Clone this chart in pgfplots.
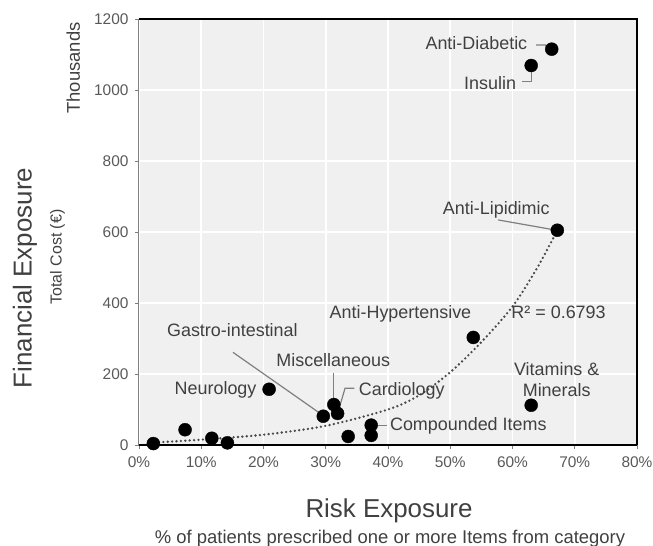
\documentclass[border=0pt]{standalone}
\usepackage{fontspec}
\setmainfont{Liberation Sans}
\usepackage{pgfplots}
\pgfplotsset{compat=1.18}

\definecolor{txt}{HTML}{404040}
\definecolor{ticktxt}{HTML}{595959}
\definecolor{bg}{HTML}{F0F0F0}
\definecolor{lead}{HTML}{7F7F7F}
\definecolor{trend}{HTML}{4A4A4A}

\tikzset{lbl/.style={anchor=base, text=txt, font=\fontsize{18}{21}\selectfont, inner sep=0pt}}

\begin{document}
\begin{tikzpicture}
\useasboundingbox (-139bp,-101bp) rectangle (514bp,445bp);
\begin{axis}[
    scale only axis,
    width=498bp,
    height=426bp,
    xmin=0, xmax=80,
    ymin=0, ymax=1200,
    xtick={0,10,...,80},
    ytick={0,200,...,1200},
    xticklabel={\pgfmathprintnumber{\tick}\%},
    grid=major,
    grid style={white, line width=1.8bp},
    axis background/.style={fill=bg},
    axis line style={draw=none},
    tick align=outside,
    xtick pos=left, ytick pos=left,
    major tick length=4bp,
    tick style={lead, line width=0.8bp},
    ticklabel style={font=\fontsize{15.5}{18}\selectfont, text=ticktxt},
    xticklabel style={yshift=-4bp},
    yticklabel style={xshift=-3bp},
    /pgf/number format/assume math mode=true,
    /pgf/number format/1000 sep={},
    clip=false,
]
% exponential trend line
\addplot[smooth, trend, line width=2.6bp, line cap=round, dash pattern=on 0bp off 4.4bp]
coordinates {
    (2.5,7) (10,15) (20,29) (30,54) (40,100) (45,140)
    (50,205) (55,290) (60,390) (64,500) (67.2,605)
};

% categories
\addplot[only marks, mark=*, mark size=6.5bp, black] coordinates {
    (66.3,1115)  % Anti-Diabetic
    (63.0,1069)  % Insulin
    (67.2,605)   % Anti-Lipidimic
    (53.7,303)   % Anti-Hypertensive
    (63.0,112)   % Vitamins & Minerals
    (20.9,157)   % Neurology
    (31.3,114)   % Miscellaneous
    (31.9,89)    % Cardiology
    (29.6,81)    % Gastro-intestinal
    (37.3,56)    % Compounded Items
    (37.3,27)
    (33.6,24)
    (7.4,43)
    (11.7,19)
    (14.2,6)
    (2.3,4)
};

% leader lines
\draw[lead, line width=1.2bp] (axis cs:63.8,1127) -- (axis cs:65.3,1127) -- (axis cs:65.7,1120);
\draw[lead, line width=1.2bp] (axis cs:61.6,1023) -- (axis cs:63.0,1023) -- (axis cs:63.0,1050);
\draw[lead, line width=1.2bp] (axis cs:57.7,634) -- (axis cs:66.4,607);
\draw[lead, line width=1.2bp] (axis cs:15.1,261) -- (axis cs:29.1,89);
\draw[lead, line width=1.2bp] (axis cs:31.3,203) -- (axis cs:31.3,126);
\draw[lead, line width=1.2bp] (axis cs:34.6,160) -- (axis cs:33.1,160) -- (axis cs:32.1,100);
\draw[lead, line width=1.2bp] (axis cs:39.8,56) -- (axis cs:37.9,56);

% labels
\node[lbl] at (axis cs:54.2,1113) {Anti-Diabetic};
\node[lbl] at (axis cs:56.4,1000) {Insulin};
\node[lbl] at (axis cs:57.4,648) {Anti-Lipidimic};
\node[lbl] at (axis cs:42.0,355) {Anti-Hypertensive};
\node[lbl] at (axis cs:67.4,355) {R² = 0.6793};
\node[lbl] at (axis cs:15.0,307) {Gastro-intestinal};
\node[lbl] at (axis cs:31.2,221) {Miscellaneous};
\node[lbl] at (axis cs:12.3,141) {Neurology};
\node[lbl] at (axis cs:42.2,139) {Cardiology};
\node[lbl] at (axis cs:67.1,196) {Vitamins \&};
\node[lbl] at (axis cs:67.1,138) {Minerals};
\node[lbl] at (axis cs:52.9,40) {Compounded Items};

% frame
\draw[black, line width=2.4bp] (rel axis cs:0,1) -- (rel axis cs:1,1) -- (rel axis cs:1,0);
\draw[black, line width=1.8bp] (rel axis cs:0,0) -- (rel axis cs:1,0);
\draw[lead, line width=1bp] (rel axis cs:0,0) -- (rel axis cs:0,1);
\end{axis}

% axis titles
\node[rotate=90, anchor=base, text=txt, font=\fontsize{26}{30}\selectfont] at (-107.3bp,167bp) {Financial Exposure};
\node[rotate=90, anchor=base, text=txt, font=\fontsize{16}{19}\selectfont] at (-77.3bp,188bp) {Total Cost (€)};
\node[rotate=90, anchor=base, text=txt, font=\fontsize{18.5}{21}\selectfont] at (-59bp,377bp) {Thousands};
\node[anchor=base, text=txt, font=\fontsize{26}{30}\selectfont] at (250bp,-72.3bp) {Risk Exposure};
\node[anchor=base, text=txt, font=\fontsize{18.5}{22}\selectfont] at (251bp,-98.3bp) {\% of patients prescribed one or more Items from category};
\end{tikzpicture}
\end{document}
